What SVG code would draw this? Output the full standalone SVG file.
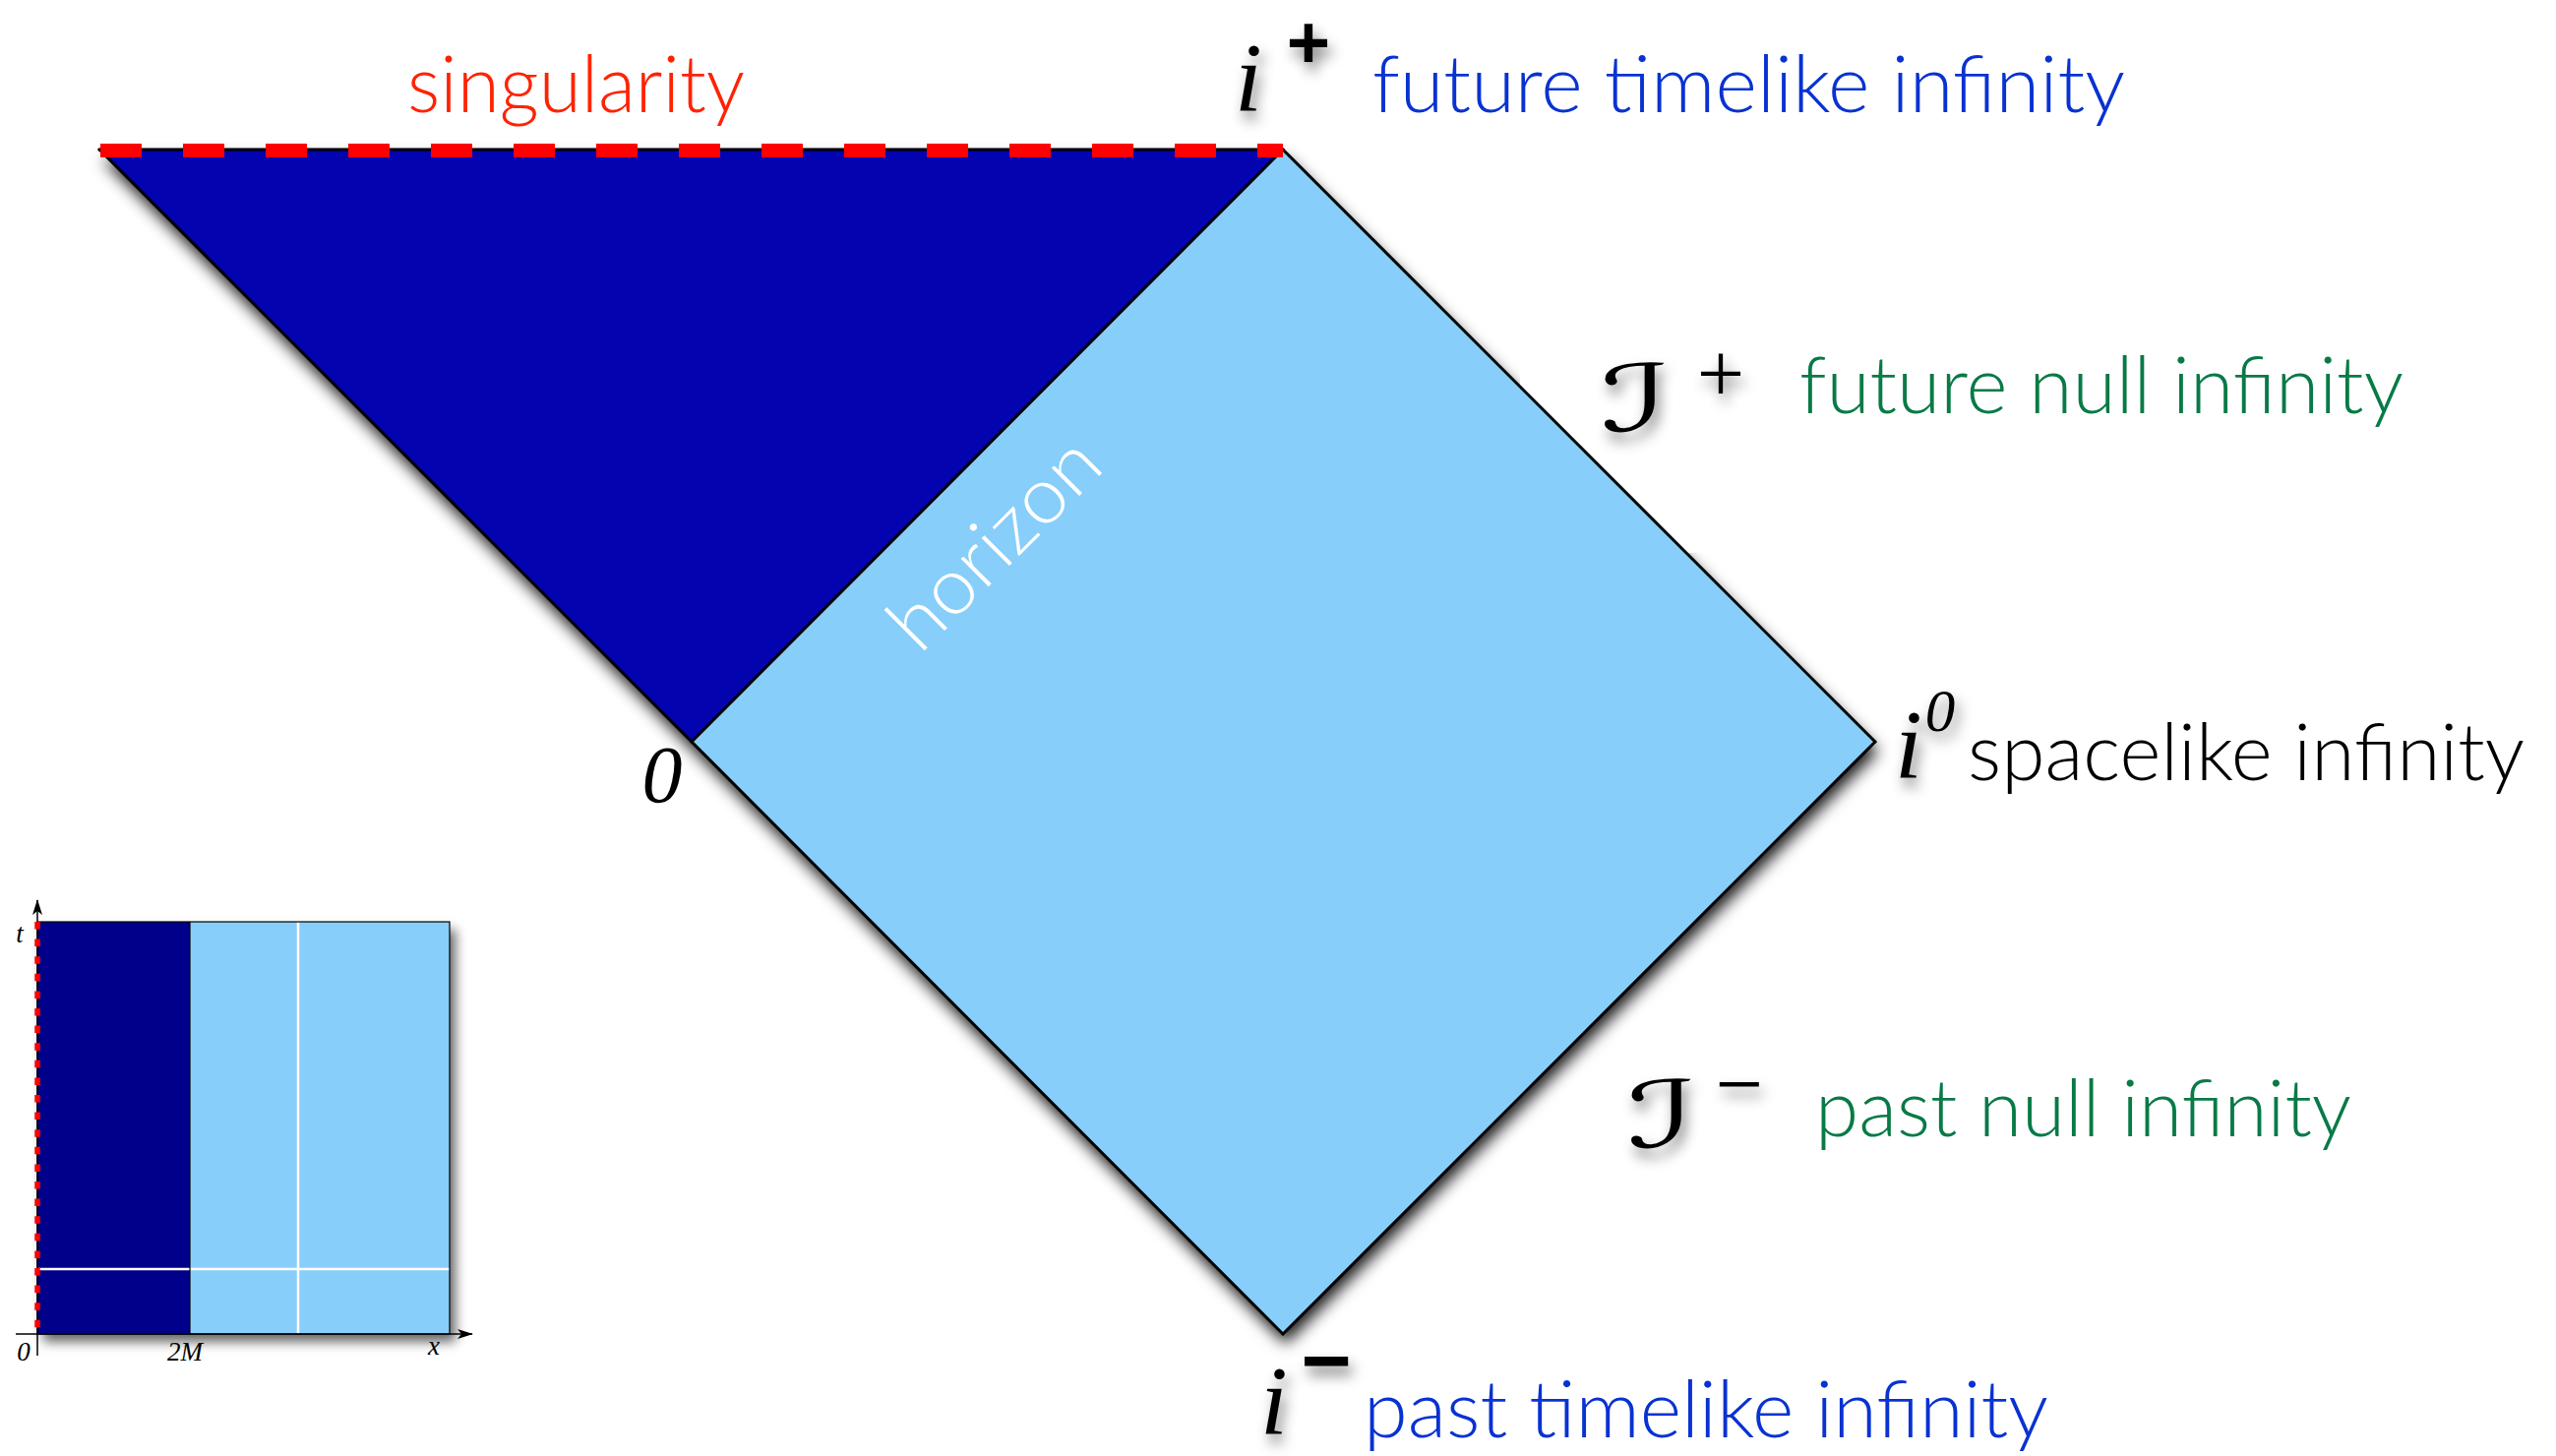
<svg xmlns="http://www.w3.org/2000/svg" width="2598" height="1480" viewBox="0 0 2598 1480">
<style>
.lbl{font-family:Lato,"Liberation Sans",sans-serif;font-weight:300;font-size:80px}
.math{font-family:"Liberation Serif",serif;font-style:italic;fill:#000}
.scri{font-family:"DejaVu Serif","DejaVu Sans",serif;font-style:italic;fill:#000}
.edge{stroke:#000;stroke-width:3;fill:none;stroke-linecap:round}
.ax{stroke:#000;stroke-width:1.5;fill:none}
.inlbl{font-family:"Liberation Serif",serif;font-style:italic;font-size:27px;fill:#000}
</style>
<defs>
<filter id="shOnly" x="-5%" y="-5%" width="115%" height="115%">
<feGaussianBlur in="SourceAlpha" stdDeviation="8"/>
<feOffset dx="3" dy="10" result="o"/>
<feFlood flood-color="#000" flood-opacity="0.9"/>
<feComposite in2="o" operator="in"/>
</filter>
<filter id="tsh" x="-40%" y="-40%" width="200%" height="200%">
<feGaussianBlur in="SourceAlpha" stdDeviation="7"/>
<feOffset dx="4" dy="9" result="o"/>
<feFlood flood-color="#000" flood-opacity="0.5"/>
<feComposite in2="o" operator="in" result="s"/>
<feMerge><feMergeNode in="s"/><feMergeNode in="SourceGraphic"/></feMerge>
</filter>
<filter id="ish" x="-10%" y="-10%" width="125%" height="125%">
<feGaussianBlur in="SourceAlpha" stdDeviation="6"/>
<feOffset dx="6" dy="8" result="o"/>
<feFlood flood-color="#000" flood-opacity="0.6"/>
<feComposite in2="o" operator="in" result="s"/>
<feMerge><feMergeNode in="s"/><feMergeNode in="SourceGraphic"/></feMerge>
</filter>
<marker id="arr" markerWidth="16" markerHeight="10" refX="15" refY="5" orient="auto" markerUnits="userSpaceOnUse">
<path d="M0,0 L16,5 L0,10 L4,5 Z" fill="#000"/>
</marker>
</defs>
<rect width="2598" height="1480" fill="#fff"/>

<g id="diagram-shadow" filter="url(#shOnly)">
<polygon points="101,152 1304,152 1906,754 1304,1356 703,754"/>
</g>

<rect x="1545" y="372" width="300" height="190" fill="#fff"/>
<rect x="1635" y="1065" width="200" height="150" fill="#fff"/>

<g id="black-hole-interior">
<polygon points="101,152 1304,152 703,754" fill="#0303b0"/>
</g>
<g id="exterior">
<polygon points="1304,152 1906,754 1304,1356 703,754" fill="#87cefa"/>
</g>

<g id="connectors">
<line class="edge" x1="101" y1="152" x2="703" y2="754"/>
<line class="edge" x1="703" y1="754" x2="1304" y2="1356"/>
<line class="edge" x1="1304" y1="1356" x2="1906" y2="754"/>
<line class="edge" x1="1906" y1="754" x2="1304" y2="152"/>
<line id="horizon-line" class="edge" x1="703" y1="754" x2="1304" y2="152"/>
<line id="singularity-line" class="edge" x1="101" y1="152" x2="1304" y2="152"/>
<line x1="102" y1="153" x2="1304" y2="153" stroke="#ff0000" stroke-width="14" stroke-dasharray="42 42"/>
</g>

<g id="label-singularity"><text class="lbl" x="414" y="114" fill="#ff2200" textLength="343" lengthAdjust="spacingAndGlyphs">singularity</text></g>
<g id="label-horizon"><text class="lbl" transform="translate(935,666) rotate(-45)" x="0" y="0" font-size="86" fill="#fff" textLength="268" lengthAdjust="spacingAndGlyphs">horizon</text></g>

<g id="node-iplus">
<g filter="url(#tsh)">
<text class="math" x="1269" y="112" font-size="100" text-anchor="middle">i</text>
<text x="1330" y="69" font-family="Liberation Sans,sans-serif" font-weight="bold" font-size="76" text-anchor="middle">+</text>
</g>
<text class="lbl" x="1395" y="114" fill="#0832d2" textLength="765" lengthAdjust="spacingAndGlyphs">future timelike infinity</text>
</g>

<g id="node-scriplus">
<g filter="url(#tsh)">
<text class="scri" transform="translate(1662,438) scale(1.6,1)" font-size="94" text-anchor="middle">ℐ</text>
<text x="1749" y="409" font-family="Liberation Serif,serif" font-size="86" text-anchor="middle">+</text>
</g>
<text class="lbl" x="1829" y="420" fill="#087a46" textLength="614" lengthAdjust="spacingAndGlyphs">future null infinity</text>
</g>

<g id="node-izero">
<g filter="url(#tsh)">
<text class="math" x="1940" y="790" font-size="100" text-anchor="middle">i</text>
<text class="math" x="1972" y="743" font-size="61" text-anchor="middle">0</text>
</g>
<text class="lbl" x="2000" y="793" fill="#000" textLength="566" lengthAdjust="spacingAndGlyphs">spacelike infinity</text>
</g>

<g id="node-scriminus">
<g filter="url(#tsh)">
<text class="scri" transform="translate(1689,1166) scale(1.6,1)" font-size="94" text-anchor="middle">ℐ</text>
<text x="1768" y="1131" font-family="Liberation Serif,serif" font-size="86" text-anchor="middle">−</text>
</g>
<text class="lbl" x="1845" y="1155" fill="#087a46" textLength="545" lengthAdjust="spacingAndGlyphs">past null infinity</text>
</g>

<g id="node-iminus">
<g filter="url(#tsh)">
<text class="math" x="1295" y="1457" font-size="100" text-anchor="middle">i</text>
<text x="1348" y="1413" font-family="Liberation Sans,sans-serif" font-weight="bold" font-size="88" text-anchor="middle">−</text>
</g>
<text class="lbl" x="1386" y="1461" fill="#0832d2" textLength="696" lengthAdjust="spacingAndGlyphs">past timelike infinity</text>
</g>

<g id="node-origin">
<text class="math" x="673" y="815" font-size="82" text-anchor="middle">0</text>
</g>

<g id="inset">
<g filter="url(#ish)">
<rect x="38" y="937" width="419" height="419" fill="#87cefa"/>
<rect x="38" y="937" width="155" height="419" fill="#00008b"/>
</g>
<line x1="303" y1="937" x2="303" y2="1356" stroke="#fff" stroke-width="2.5"/>
<line x1="38" y1="1290" x2="457" y2="1290" stroke="#fff" stroke-width="2.5"/>
<rect x="38" y="937" width="419" height="419" fill="none" stroke="#000" stroke-width="1.2"/>
<line x1="193" y1="937" x2="193" y2="1356" stroke="#000" stroke-width="1.2"/>
<line class="ax" x1="38" y1="1378" x2="38" y2="915" marker-end="url(#arr)"/>
<line class="ax" x1="16" y1="1356" x2="480" y2="1356" marker-end="url(#arr)"/>
<line x1="38" y1="937" x2="38" y2="1356" stroke="#ff0000" stroke-width="5.5" stroke-dasharray="7.5 10.1"/>
<text class="inlbl" x="20" y="958" text-anchor="middle">t</text>
<text class="inlbl" x="24" y="1383" text-anchor="middle">0</text>
<text class="inlbl" x="188" y="1383" text-anchor="middle">2M</text>
<text class="inlbl" x="441" y="1377" text-anchor="middle">x</text>
</g>
</svg>
